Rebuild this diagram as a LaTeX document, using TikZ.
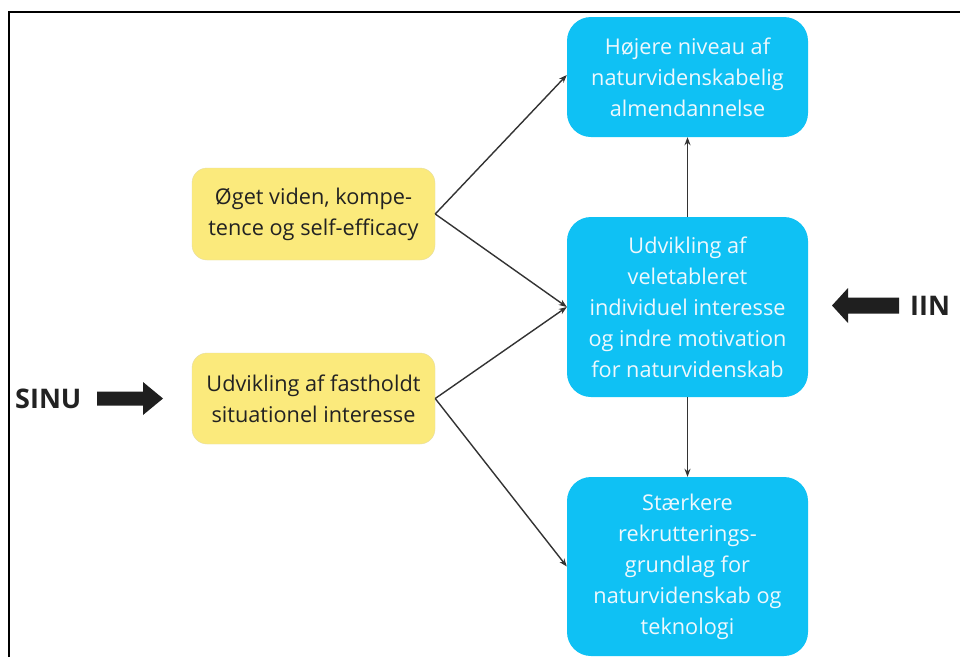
\documentclass[tikz,border=0pt]{standalone}
\usepackage{fontspec}
\setmainfont{Open Sans}
\usetikzlibrary{arrows.meta}
\definecolor{boxblue}{HTML}{0FC1F4}
\definecolor{boxyellow}{HTML}{FBEA7C}
\definecolor{bluetext}{HTML}{EEF8FD}
\definecolor{darktext}{HTML}{222222}
\definecolor{linkgray}{HTML}{333333}
\tikzset{
  bluebox/.style={draw=none, fill=boxblue, rounded corners=24pt, minimum width=241pt,
    align=center, text=bluetext, inner sep=0pt, font=\fontsize{21.7}{31}\selectfont},
  yellowbox/.style={draw=boxyellow!85!black!60, line width=0.4pt, fill=boxyellow, rounded corners=15pt,
    minimum width=243pt, align=center, text=darktext, inner sep=0pt, font=\fontsize{21.7}{31}\selectfont},
  link/.style={draw=linkgray, line width=1.4pt, -{Stealth[length=8pt,width=6pt]}},
  biglabel/.style={font=\bfseries\fontsize{27}{30}\selectfont, text=darktext, inner sep=0pt},
  fatarrow/.style={fill=black!88, draw=none}
}
\begin{document}
\begin{tikzpicture}[x=1pt, y=-1pt]
  \useasboundingbox (0,0) rectangle (960,657);
  \fill[white] (0,0) rectangle (960,657);
  % outer frame (open to the right and bottom)
  \draw[line width=2pt, black] (9,657) -- (9,12) -- (960,12);

  % outcome boxes
  \node[bluebox, minimum height=120pt] (top) at (687.5,77)
    {Højere niveau af\\naturvidenskabelig\\almendannelse};
  \node[bluebox, minimum height=180pt] (mid) at (687.5,307)
    {Udvikling af\\veletableret\\individuel interesse\\og indre motivation\\for naturvidenskab};
  \node[bluebox, minimum height=179pt] (bot) at (687.5,566.5)
    {Stærkere\\rekrutterings-\\grundlag for\\naturvidenskab og\\teknologi};

  % intermediate boxes
  \node[yellowbox, minimum height=92pt] (know) at (313.5,214)
    {Øget viden, kompe-\\tence og self-efficacy};
  \node[yellowbox, minimum height=91pt] (situ) at (313.5,398.5)
    {Udvikling af fastholdt\\situationel interesse};

  % connectors
  \draw[link] (know.east) -- (top.west |- 0,75);
  \draw[link] (know.east) -- (mid.west);
  \draw[link] (situ.east) -- (mid.west);
  \draw[link] (situ.east) -- (bot.west);
  \draw[link] (mid.north) -- (top.south);
  \draw[link] (mid.south) -- (bot.north);

  % side labels with block arrows
  \node[biglabel, anchor=west] (sinu) at (15,399) {SINU};
  \fill[fatarrow] (97,391.5) -- (143,391.5) -- (143,382) -- (163,398.5) -- (143,415)
    -- (143,405.5) -- (97,405.5) -- cycle;
  \node[biglabel, anchor=west] (iin) at (910,306) {IIN};
  \fill[fatarrow] (899,297.5) -- (848,297.5) -- (848,288) -- (832,305.5) -- (848,323)
    -- (848,313.5) -- (899,313.5) -- cycle;
\end{tikzpicture}
\end{document}
